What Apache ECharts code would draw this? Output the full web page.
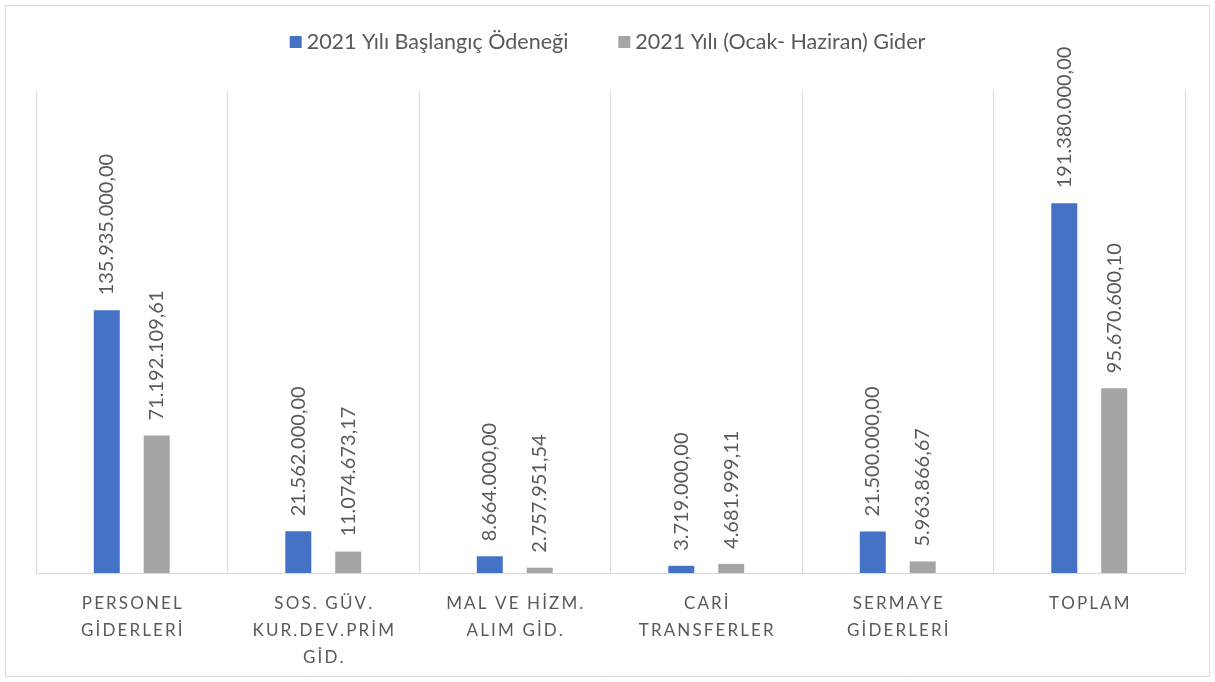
<!DOCTYPE html>
<html>
<head>
<meta charset="utf-8">
<script src="https://cdn.jsdelivr.net/npm/echarts@6/dist/echarts.min.js"></script>
<style>
html, body { margin: 0; padding: 0; background: #fff; }
#chart { width: 1215px; height: 682px; }
</style>
</head>
<body>
<div id="chart"></div>
<script>
var categories = ['PERSONEL\nGİDERLERİ', 'SOS. GÜV.\nKUR.DEV.PRİM\nGİD.', 'MAL VE HİZM.\nALIM GİD.', 'CARİ\nTRANSFERLER', 'SERMAYE\nGİDERLERİ', 'TOPLAM'];
var baslangic = [135935000.00, 21562000.00, 8664000.00, 3719000.00, 21500000.00, 191380000.00];
var gider = [71192109.61, 11074673.17, 2757951.54, 4681999.11, 5963866.67, 95670600.10];

// 135.935.000,00 bicimi
function trFormat(v) {
    var parts = v.toFixed(2).split('.');
    return parts[0].replace(/\B(?=(\d{3})+(?!\d))/g, '.') + ',' + parts[1];
}
// harf araligi icin ince bosluk
function spaced(s) {
    return s.split('\n').map(function (line) {
        return line.split('').join('\u2009');
    }).join('\n');
}

var myChart = echarts.init(document.getElementById('chart'));
var option = {
    textStyle: { fontFamily: 'Lato' },
    graphic: [{
        type: 'rect',
        shape: { x: 5.5, y: 5.5, width: 1204, height: 671 },
        style: { fill: 'none', stroke: '#d9d9d9', lineWidth: 1 }
    }],
    legend: {
        top: 26,
        left: 'center',
        itemWidth: 12,
        itemHeight: 12,
        itemGap: 50,
        icon: 'rect',
        textStyle: { fontSize: 21.5, color: '#595959', fontFamily: 'Lato' },
        data: ['2021 Yılı Başlangıç Ödeneği', '2021 Yılı (Ocak- Haziran) Gider']
    },
    grid: {
        top: 90,
        left: 36,
        right: 30,
        bottom: 109
    },
    xAxis: {
        type: 'category',
        data: categories,
        axisLine: { lineStyle: { color: '#d9d9d9', width: 1 } },
        axisTick: { show: false },
        splitLine: { show: true, lineStyle: { color: '#d9d9d9', width: 1 } },
        axisLabel: {
            interval: 0,
            margin: 17,
            fontSize: 17,
            lineHeight: 27,
            color: '#595959',
            fontFamily: 'Lato',
            formatter: function (v) { return spaced(v); }
        }
    },
    yAxis: {
        type: 'value',
        min: 0,
        max: 250000000,
        show: false,
        splitLine: { show: false }
    },
    series: [
        {
            name: '2021 Yılı Başlangıç Ödeneği',
            type: 'bar',
            barWidth: 26,
            barGap: '92%',
            itemStyle: { color: '#4472c4' },
            label: {
                show: true,
                position: 'top',
                rotate: 90,
                align: 'left',
                verticalAlign: 'middle',
                distance: 15,
                fontSize: 20,
                color: '#595959',
                fontFamily: 'Lato',
                formatter: function (p) { return trFormat(p.value); }
            },
            data: baslangic
        },
        {
            name: '2021 Yılı (Ocak- Haziran) Gider',
            type: 'bar',
            barWidth: 26,
            itemStyle: { color: '#a5a5a5' },
            label: {
                show: true,
                position: 'top',
                rotate: 90,
                align: 'left',
                verticalAlign: 'middle',
                distance: 15,
                fontSize: 20,
                color: '#595959',
                fontFamily: 'Lato',
                formatter: function (p) { return trFormat(p.value); }
            },
            data: gider
        }
    ]
};
myChart.setOption(option);
</script>
</body>
</html>
